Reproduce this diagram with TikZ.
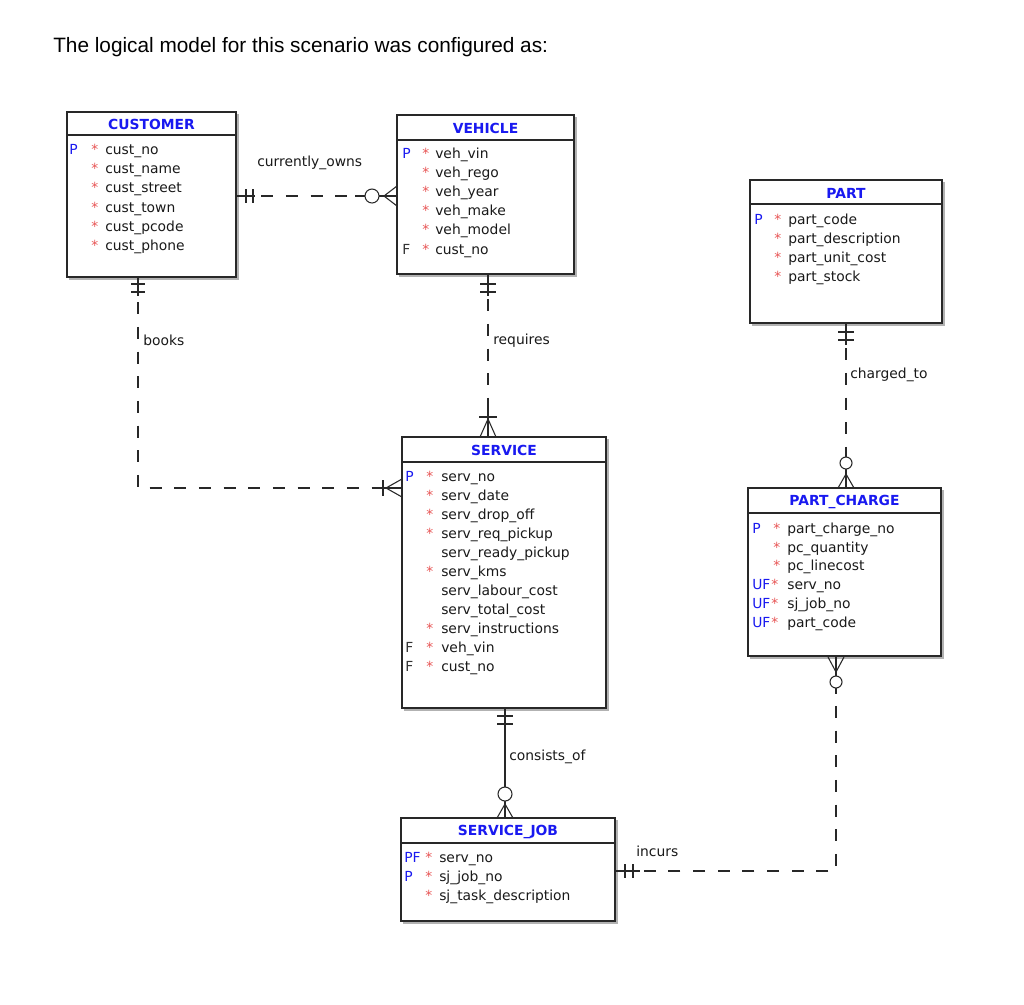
\documentclass[tikz,border=0pt]{standalone}
\usepackage{fontspec}
\setmainfont{Liberation Sans}
\newfontfamily\erfont{DejaVu Sans}
\usetikzlibrary{fit,calc}
\definecolor{ertitle}{RGB}{25,25,240}
\definecolor{erstar}{RGB}{232,85,85}
\definecolor{erline}{RGB}{40,40,40}
\newcommand\erf{\erfont\fontsize{10.4pt}{12pt}\selectfont}
\newcommand\erow[9]{%
  \node[#4] (#1k) at (#3,#2) {#5};
  \node[star] (#1s) at (#6,#2) {#7};
  \node[attr] (#1t) at (#8,#2) {#9};}
\begin{document}
\begin{tikzpicture}[x=0.75pt,y=-0.75pt,
  entity/.style={draw=erline, line width=0.8pt, fill=white, inner sep=0pt},
  shadow/.style={draw=black!30, line width=0.9pt},
  sepline/.style={draw=erline, line width=1.3pt},
  etitle/.style={font=\erf\bfseries, text=ertitle, inner sep=0pt},
  attr/.style={font=\erf, anchor=mid west, inner sep=0pt, text=black!90, yshift=-1.4pt},
  keyb/.style={attr, text=ertitle},
  keyk/.style={attr, text=black!80},
  star/.style={attr, text=erstar},
  rel/.style={draw=erline, line width=0.8pt},
  reldash/.style={rel, dash pattern=on 9pt off 9.5pt},
  opt/.style={rel, fill=white},
  lbl/.style={font=\erf, inner sep=0pt, anchor=mid west, text=black!90, yshift=-1.2pt},
]
\useasboundingbox (0,0) rectangle (1024,1004);
\fill[white] (0,0) rectangle (1024,1004);

\node[anchor=base west, inner sep=0pt, font=\fontsize{15.6pt}{18pt}\selectfont] (title) at (53,52)
  {The logical model for this scenario was configured as:};

% ---------- entities ----------
\draw[shadow] (238,114) -- (238,279) -- (69,279);
\node[entity, fit={(67,112) (236,277)}] (customer) {};
\draw[sepline] (67,135) -- (236,135);
\node[etitle] (customerT) at (151.5,124) {CUSTOMER};
\erow{c1}{149}{69}{keyb}{P}{91}{*}{105}{cust\_no}
\erow{c2}{168}{69}{keyb}{}{91}{*}{105}{cust\_name}
\erow{c3}{187.5}{69}{keyb}{}{91}{*}{105}{cust\_street}
\erow{c4}{207}{69}{keyb}{}{91}{*}{105}{cust\_town}
\erow{c5}{226}{69}{keyb}{}{91}{*}{105}{cust\_pcode}
\erow{c6}{245}{69}{keyb}{}{91}{*}{105}{cust\_phone}

\draw[shadow] (576,117) -- (576,276) -- (399,276);
\node[entity, fit={(397,115) (574,274)}] (vehicle) {};
\draw[sepline] (397,140) -- (574,140);
\node[etitle] (vehicleT) at (485.5,128) {VEHICLE};
\erow{v1}{153.5}{402}{keyb}{P}{422}{*}{435}{veh\_vin}
\erow{v2}{172.5}{402}{keyb}{}{422}{*}{435}{veh\_rego}
\erow{v3}{191.5}{402}{keyb}{}{422}{*}{435}{veh\_year}
\erow{v4}{210.5}{402}{keyb}{}{422}{*}{435}{veh\_make}
\erow{v5}{229.5}{402}{keyb}{}{422}{*}{435}{veh\_model}
\erow{v6}{249}{402}{keyk}{F}{422}{*}{435}{cust\_no}

\draw[shadow] (944,182) -- (944,325) -- (752,325);
\node[entity, fit={(750,180) (942,323)}] (part) {};
\draw[sepline] (750,204) -- (942,204);
\node[etitle] (partT) at (846,193) {PART};
\erow{p1}{219}{754}{keyb}{P}{774}{*}{788}{part\_code}
\erow{p2}{238}{754}{keyb}{}{774}{*}{788}{part\_description}
\erow{p3}{257}{754}{keyb}{}{774}{*}{788}{part\_unit\_cost}
\erow{p4}{276}{754}{keyb}{}{774}{*}{788}{part\_stock}

\draw[shadow] (608,439) -- (608,710) -- (404,710);
\node[entity, fit={(402,437) (606,708)}] (service) {};
\draw[sepline] (402,462) -- (606,462);
\node[etitle] (serviceT) at (504,450) {SERVICE};
\erow{s1}{476}{405}{keyb}{P}{426}{*}{441}{serv\_no}
\erow{s2}{495}{405}{keyb}{}{426}{*}{441}{serv\_date}
\erow{s3}{514}{405}{keyb}{}{426}{*}{441}{serv\_drop\_off}
\erow{s4}{533}{405}{keyb}{}{426}{*}{441}{serv\_req\_pickup}
\erow{s5}{552}{405}{keyb}{}{426}{}{441}{serv\_ready\_pickup}
\erow{s6}{571}{405}{keyb}{}{426}{*}{441}{serv\_kms}
\erow{s7}{590}{405}{keyb}{}{426}{}{441}{serv\_labour\_cost}
\erow{s8}{609}{405}{keyb}{}{426}{}{441}{serv\_total\_cost}
\erow{s9}{628}{405}{keyb}{}{426}{*}{441}{serv\_instructions}
\erow{s10}{647}{405}{keyk}{F}{426}{*}{441}{veh\_vin}
\erow{s11}{666.5}{405}{keyk}{F}{426}{*}{441}{cust\_no}

\draw[shadow] (943,490) -- (943,658) -- (750,658);
\node[entity, fit={(748,488) (941,656)}] (pc) {};
\draw[sepline] (748,513) -- (941,513);
\node[etitle] (pcT) at (844.5,502) {PART\_CHARGE};
\erow{q1}{528}{752}{keyb}{P}{773}{*}{787}{part\_charge\_no}
\erow{q2}{547}{752}{keyb}{}{773}{*}{787}{pc\_quantity}
\erow{q3}{565.5}{752}{keyb}{}{773}{*}{787}{pc\_linecost}
\erow{q4}{584.5}{752}{keyb}{UF}{771}{*}{787}{serv\_no}
\erow{q5}{603.5}{752}{keyb}{UF}{771}{*}{787}{sj\_job\_no}
\erow{q6}{622.5}{752}{keyb}{UF}{771}{*}{787}{part\_code}

\draw[shadow] (617,820) -- (617,923) -- (403,923);
\node[entity, fit={(401,818) (615,921)}] (sj) {};
\draw[sepline] (401,843) -- (615,843);
\node[etitle] (sjT) at (508,831.5) {SERVICE\_JOB};
\erow{j1}{857}{404}{keyb}{PF}{425}{*}{439}{serv\_no}
\erow{j2}{876}{404}{keyb}{P}{425}{*}{439}{sj\_job\_no}
\erow{j3}{895}{404}{keyb}{}{425}{*}{439}{sj\_task\_description}

% ---------- relationships ----------
% currently_owns
\coordinate (ow) at (0,196);
\draw[reldash] (customer.east |- ow) -- (vehicle.west |- ow);
\draw[rel] (customer.east |- ow) -- (255,196);
\draw[rel] (246,189) -- (246,203) (253,189) -- (253,203);
\draw[rel] (355,196) -- (vehicle.west |- ow);
\draw[opt] (372,196) circle[radius=7];
\draw[rel] (384,196) -- (397,186) (384,196) -- (397,206);
\node[lbl] (lowns) at (257,161.5) {currently\_owns};

% books
\coordinate (bk) at (138,488);
\draw[reldash] (bk |- customer.south) -- (bk) -- (service.west |- bk);
\draw[rel] (bk |- customer.south) -- (138,296);
\draw[rel] (131,284) -- (145,284) (131,292) -- (145,292);
\draw[rel] (376,488) -- (service.west |- bk);
\draw[rel] (383,480) -- (383,496);
\draw[rel] (386,488) -- (402,479) (386,488) -- (402,497);
\node[lbl] (lbooks) at (143,340) {books};

% requires
\coordinate (rq) at (488,0);
\draw[reldash] (rq |- vehicle.south) -- (rq |- service.north);
\draw[rel] (rq |- vehicle.south) -- (488,296);
\draw[rel] (480,284) -- (496,284) (480,292) -- (496,292);
\draw[rel] (488,410) -- (rq |- service.north);
\draw[rel] (479,417) -- (497,417);
\draw[rel] (488,419) -- (480,437) (488,419) -- (496,437);
\node[lbl] (lreq) at (493,339) {requires};

% charged_to
\coordinate (ct) at (846,0);
\draw[reldash] (ct |- part.south) -- (ct |- pc.north);
\draw[rel] (ct |- part.south) -- (846,345);
\draw[rel] (838,332) -- (854,332) (838,340) -- (854,340);
\draw[rel] (846,452) -- (ct |- pc.north);
\draw[opt] (846,463) circle[radius=6];
\draw[rel] (846,474) -- (838,488) (846,474) -- (854,488);
\node[lbl] (lcharged) at (850,373) {charged\_to};

% incurs
\coordinate (ic) at (836,871);
\draw[reldash] (ic |- pc.south) -- (ic) -- (sj.east |- ic);
\draw[rel] (ic |- pc.south) -- (836,694);
\draw[rel] (828,657) -- (836,672) -- (844,657);
\draw[opt] (836,682) circle[radius=6];
\draw[rel] (sj.east |- ic) -- (640,871);
\draw[rel] (625,864) -- (625,878) (633,864) -- (633,878);
\node[lbl] (lincurs) at (636,851.5) {incurs};

% consists_of
\coordinate (co) at (505,0);
\draw[rel] (co |- service.south) -- (co |- sj.north);
\draw[rel] (497,716) -- (513,716) (497,724) -- (513,724);
\draw[opt] (505,794) circle[radius=7];
\draw[rel] (505,804) -- (497,818) (505,804) -- (513,818);
\node[lbl] (lconsists) at (509,755.5) {consists\_of};
\end{tikzpicture}
\end{document}
